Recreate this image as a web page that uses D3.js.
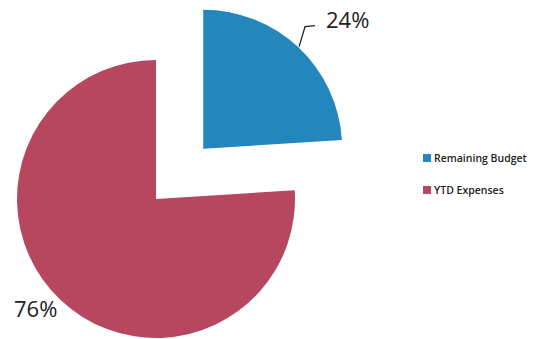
<!DOCTYPE html>
<html><head><meta charset="utf-8">
<script src="https://cdn.jsdelivr.net/npm/d3@7"></script>
<style>html,body{margin:0;padding:0;background:#fff;}svg{display:block;}</style>
</head><body>
<svg id="c" width="536" height="339"></svg>
<script>
const categories = ["Remaining Budget", "YTD Expenses"];
const values = [24, 76];
const labels = ["24%", "76%"];
const colors = ["#2386bd", "#b6475f"];

const svg = d3.select("#c");
const cx = 156, cy = 199, R = 139, explode = 69;
const pie = d3.pie().sort(null).value(d => d)(values);
const arc = d3.arc().innerRadius(0).outerRadius(R);
const g = svg.append("g").attr("transform", `translate(${cx},${cy})`);

pie.forEach((p, i) => {
  const mid = (p.startAngle + p.endAngle) / 2;
  const off = i === 0 ? explode : 0;
  const dx = Math.sin(mid) * off, dy = -Math.cos(mid) * off;
  g.append("path").attr("d", arc(p)).attr("fill", colors[i])
    .attr("transform", `translate(${dx},${dy})`);
});

// leader line for 24%
const p0 = pie[0];
const mid0 = (p0.startAngle + p0.endAngle) / 2;
const ox = Math.sin(mid0) * explode, oy = -Math.cos(mid0) * explode;
const sx = ox + Math.sin(mid0) * (R + 1), sy = oy - Math.cos(mid0) * (R + 1);
g.append("path")
  .attr("d", `M${sx},${sy} L${sx + 6},${sy - 20} L${sx + 16},${sy - 21}`)
  .attr("fill", "none").attr("stroke", "#222").attr("stroke-width", 1.3);

svg.append("text").attr("x", 326).attr("y", 28).text(labels[0])
  .attr("font-family", "Open Sans, sans-serif").attr("font-size", 22).attr("fill", "#222");
svg.append("text").attr("x", 14).attr("y", 317).text(labels[1])
  .attr("font-family", "Open Sans, sans-serif").attr("font-size", 22).attr("fill", "#222");

// legend
const lg = svg.append("g");
categories.forEach((c, i) => {
  const y = 154 + i * 32;
  lg.append("rect").attr("x", 423).attr("y", y).attr("width", 8).attr("height", 8).attr("fill", colors[i]);
  lg.append("text").attr("x", 434).attr("y", y + 8).text(c)
    .attr("font-family", "Open Sans, sans-serif").attr("font-size", 10.5)
    .attr("font-weight", 600).attr("fill", "#222");
});
</script>
</body></html>
